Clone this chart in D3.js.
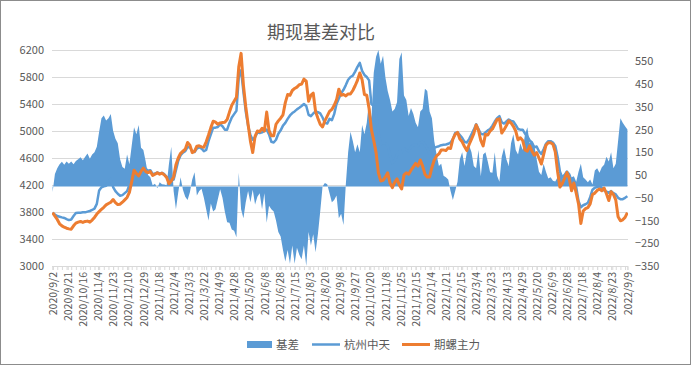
<!DOCTYPE html>
<html>
<head>
<meta charset="utf-8">
<script src="https://cdn.jsdelivr.net/npm/d3@7"></script>
<style>
  body { margin: 0; background: #fff; }
  svg text { font-family: "Noto Sans CJK SC", "Noto Sans", sans-serif; fill: #595959; }
</style>
</head>
<body>
<div id="vis"></div>
<script>
const FRAME_WIDTH = 692;
const FRAME_HEIGHT = 365;
const MARGINS = {left: 52, right: 64, top: 50, bottom: 99};

// x axis labels, one every 13 trading days
const tickLabels = ["2020/9/2", "2020/9/21", "2020/10/16", "2020/11/4", "2020/11/23", "2020/12/10",
  "2020/12/29", "2021/1/18", "2021/2/4", "2021/3/3", "2021/3/22", "2021/4/9", "2021/4/28",
  "2021/5/20", "2021/6/8", "2021/6/28", "2021/7/15", "2021/8/3", "2021/8/20", "2021/9/8",
  "2021/9/27", "2021/10/20", "2021/11/8", "2021/11/25", "2021/12/15", "2022/1/4", "2022/1/21",
  "2022/2/15", "2022/3/4", "2022/3/23", "2022/4/13", "2022/4/29", "2022/5/20", "2022/6/9",
  "2022/6/28", "2022/7/18", "2022/8/4", "2022/8/23", "2022/9/9"];
const LABEL_EVERY = 13;  // trading days between labels
const STEP = 2;          // values below are read every 2nd trading day

// 杭州中天 spot price (left axis)
const spot = [
  3790, 3760, 3740, 3730, 3720, 3712, 3695, 3680, 3690, 3740,
  3785, 3790, 3790, 3795, 3795, 3805, 3815, 3830, 3850, 3920,
  4120, 4165, 4180, 4190, 4240, 4290, 4170, 4110, 4070, 4040,
  4050, 4080, 4110, 4200, 4330, 4450, 4420, 4400, 4440, 4470,
  4440, 4410, 4420, 4360, 4370, 4385, 4370, 4380, 4360, 4320,
  4290, 4270, 4280, 4420, 4560, 4640, 4680, 4700, 4760, 4760,
  4700, 4690, 4740, 4760, 4740, 4700, 4720, 4850, 4950, 5050,
  5050, 5060, 5100, 5070, 5020, 5020, 5120, 5200, 5250, 5300,
  5800, 5900, 5580, 5290, 5080, 4940, 4870, 4910, 4980, 4970,
  4980, 5000, 5020, 4950, 4840, 4830, 4870, 4960, 5010, 5080,
  5120, 5180, 5230, 5265, 5290, 5320, 5344, 5370, 5400, 5370,
  5240, 5220, 5260, 5290, 5280, 5260, 5200, 5120, 5110, 5180,
  5160, 5250, 5400, 5480, 5560, 5610, 5680, 5760, 5800, 5820,
  5880, 5950, 6010, 5890, 5830, 5800, 5750, 5400, 5370, 5260,
  4980, 4800, 4820, 4820, 4780, 4650, 4520, 4560, 4640, 4700,
  4690, 4740, 4720, 4700, 4760, 4790, 4800, 4780, 4830, 4840,
  4790, 4740, 4660, 4720, 4750, 4765, 4775, 4790, 4795, 4800,
  4810, 4830, 4880, 4970, 4980, 4940, 4900, 4840, 4830, 4880,
  4950, 5020, 5100, 5030, 4960, 4950, 4980, 5010, 5030, 5080,
  5140, 5190, 5220, 5130, 5110, 5140, 5170, 5150, 5140, 5090,
  5030, 5020, 5020, 4960, 4920, 4860, 4830, 4760, 4770, 4700,
  4660, 4730, 4810, 4850, 4850, 4830, 4780, 4620, 4400, 4310,
  4350, 4400, 4360, 4260, 4220, 4170, 3960, 3870, 3900, 3915,
  3935, 4020, 4130, 4160, 4170, 4180, 4160, 4120, 4100, 4085,
  4110, 4080, 4060, 4010, 3990, 3990, 4010, 4035
];

// 期螺主力 futures price (left axis)
const futures = [
  3790, 3740, 3690, 3625, 3595, 3575, 3560, 3550, 3545, 3595,
  3635, 3650, 3660, 3645, 3660, 3665, 3650, 3680, 3720, 3770,
  3805, 3840, 3870, 3905, 3925, 3945, 3985, 3940, 3910, 3915,
  3945, 3980, 4015, 4090, 4250, 4420, 4370, 4335, 4400, 4450,
  4400, 4385, 4400, 4340, 4360, 4380, 4360, 4375, 4350, 4310,
  4220, 4260, 4320, 4500, 4600, 4670, 4700, 4730, 4830, 4790,
  4680, 4700, 4775, 4780, 4765, 4760, 4840, 4940, 5050, 5145,
  5130, 5100, 5120, 5125, 5130, 5170, 5280, 5380, 5440, 5500,
  5950, 6150, 5680, 5360, 5100, 4850, 4680, 4920, 5000, 4990,
  5040, 5000, 5280, 5010, 4930, 4930, 5100, 5150, 5190, 5240,
  5420, 5540, 5530, 5600, 5630, 5650, 5685, 5695, 5770, 5740,
  5440, 5530, 5560, 5290, 5190, 5100, 5060, 5150, 5220, 5290,
  5320, 5380, 5460, 5620, 5530, 5540, 5520, 5550, 5550, 5600,
  5670, 5750, 5860, 5760, 5540, 5530, 5330, 5020, 4860, 4680,
  4380, 4260, 4270, 4320, 4380, 4230, 4160, 4240, 4290, 4200,
  4140, 4350, 4380, 4360, 4420, 4470, 4520, 4480, 4570, 4480,
  4360, 4320, 4320, 4460, 4570, 4630, 4660, 4720, 4720, 4710,
  4750, 4740, 4880, 4950, 4980, 4880, 4840, 4770, 4710, 4800,
  4880, 4960, 5090, 5010, 4860, 4780, 4950, 4940, 5000, 5030,
  5100, 5170, 5180, 4970, 5020, 5080, 5150, 5120, 5070, 5000,
  4870, 4900, 4860, 4720, 4700, 4780, 4700, 4640, 4680, 4600,
  4510, 4650, 4790, 4826, 4826, 4805, 4690, 4400, 4170, 4220,
  4300, 4385, 4300, 4115, 4230, 4080, 3920, 3630, 3815, 3850,
  3865, 3920, 4060, 4080, 4120, 4140, 4115, 4155, 4070, 3970,
  4100, 4060, 3980, 3730, 3670, 3685, 3720, 3790
];

// 基差 basis (right axis)
const basis = [
  -25, 55, 80, 98, 108, 95, 110, 100, 110, 98,
  112, 120, 128, 115, 130, 145, 122, 140, 150, 175,
  240, 300, 312, 290, 300, 318, 245, 210, 190, 120,
  85, 78, 140, 98, 180, 260, 230, 270, 170, 160,
  110, 50, 40, 5, 12, -8, 18, 10, 8, 5,
  100, 175, -20, -100, -26, 40, -15, -45, -60, -26,
  30, 62, -40, -20, -10, -50, -100, -150, -75, -110,
  -100, -56, -12, -50, -110, -158, -160, -190, -195, -224,
  60, -100, -140, -70, -20, -70, -15, -80, -45, -30,
  -100, -30, -160, -85, -100, -110, -150, -200, -220, -280,
  -330, -280, -340, -260, -340, -270, -300, -320, -260, -350,
  -200, -260, -210, -290, -210, -110, 0, 15, 10, -30,
  -70, -60, -40, -140, -120, -170, 10, 150, 240, 200,
  150, 185, 150, 270, 230, 280, 380, 300, 500, 570,
  600, 540, 575, 480, 420, 380, 330, 340, 370, 560,
  590, 400, 380, 310, 345, 320, 280, 260, 330, 340,
  430, 420, 330, 300, 200, 140, 90, 100, 47, 40,
  30, -20, -60, -20, 20, 120, 150, 90, 150, 180,
  150, 90, 80, 160, 45, 140, 150, 110, 62, 60,
  150, 47, 20, 130, 170, 120, 90, 190, 230, 160,
  140, 190, 160, 230, 260, 190, 200, 180, 120, 65,
  50, 100, 65, 35, 40, 25, 22, 40, 60, 35,
  45, 60, 35, 40, 45, 20, 65, 100, 40, 30,
  18, 30, 8, 70, 80, 60, 84, 95, 130, 110,
  150, 80, 100, 200, 300, 280, 265, 250
];

const leftTicks = [3000, 3400, 3800, 4200, 4600, 5000, 5400, 5800, 6200];
const rightTicks = [-350, -250, -150, -50, 50, 150, 250, 350, 450, 550];

const BLUE = "#5B9BD5";
const ORANGE = "#ED7D31";
const GRID = "#D9D9D9";

const VIS_WIDTH = FRAME_WIDTH - MARGINS.left - MARGINS.right;
const VIS_HEIGHT = FRAME_HEIGHT - MARGINS.top - MARGINS.bottom;

const FRAME = d3.select("#vis")
  .append("svg")
    .attr("width", FRAME_WIDTH)
    .attr("height", FRAME_HEIGHT);

FRAME.append("rect")
  .attr("x", 0.5).attr("y", 0.5)
  .attr("width", FRAME_WIDTH - 2).attr("height", FRAME_HEIGHT - 1)
  .attr("fill", "#fff").attr("stroke", "#8c8c8c");

const N = (tickLabels.length - 1) * LABEL_EVERY;  // last trading-day index

const X_SCALE = d3.scaleLinear()
  .domain([0, N])
  .range([0.6, VIS_WIDTH - 0.6]);

const Y_LEFT = d3.scaleLinear()
  .domain([3000, 6200])
  .range([VIS_HEIGHT, 0]);

const Y_RIGHT = d3.scaleLinear()
  .domain([-350, 600])
  .range([VIS_HEIGHT, 0]);

const G = FRAME.append("g")
  .attr("transform", "translate(" + MARGINS.left + "," + MARGINS.top + ")");

G.append("clipPath").attr("id", "clip")
  .append("rect").attr("width", VIS_WIDTH).attr("height", VIS_HEIGHT);

// gridlines + left axis
G.append("g")
  .call(d3.axisLeft(Y_LEFT).tickValues(leftTicks).tickFormat(d3.format("d"))
          .tickSize(-VIS_WIDTH).tickPadding(8))
  .call(g => g.select(".domain").remove())
  .call(g => g.selectAll("line").attr("stroke", GRID))
  .call(g => g.selectAll("text").attr("font-size", "11px"));

// right axis
G.append("g")
  .attr("transform", "translate(" + VIS_WIDTH + ",0)")
  .call(d3.axisRight(Y_RIGHT).tickValues(rightTicks).tickFormat(d3.format("d"))
          .tickSize(0).tickPadding(7))
  .call(g => g.select(".domain").remove())
  .call(g => g.selectAll("text").attr("font-size", "11px"));

// small tick marks along the category axis
G.append("g")
  .attr("transform", "translate(0," + VIS_HEIGHT + ")")
  .call(d3.axisBottom(X_SCALE).tickValues(d3.range(0, N + 1, 4)).tickFormat("").tickSize(4))
  .call(g => g.select(".domain").remove())
  .call(g => g.selectAll("line").attr("stroke", GRID));

// x axis
G.append("g")
  .attr("transform", "translate(0," + VIS_HEIGHT + ")")
  .call(d3.axisBottom(X_SCALE)
          .tickValues(tickLabels.map((d, i) => i * LABEL_EVERY))
          .tickFormat((d, i) => tickLabels[i])
          .tickSize(4))
  .call(g => g.select(".domain").attr("stroke", GRID))
  .call(g => g.selectAll("line").attr("stroke", GRID))
  .call(g => g.selectAll("text")
          .attr("font-size", "10.5px")
          .attr("x", -6).attr("y", 0).attr("dy", "0.35em")
          .attr("transform", "rotate(-90)")
          .style("text-anchor", "end"));

const PLOT = G.append("g").attr("clip-path", "url(#clip)");

// basis area
PLOT.append("path")
  .datum(basis)
  .attr("fill", BLUE)
  .attr("d", d3.area()
    .x((d, i) => X_SCALE(i * STEP))
    .y0(Y_RIGHT(0))
    .y1(d => Y_RIGHT(d)));

const LINE = d3.line()
  .x((d, i) => X_SCALE(i * STEP))
  .y(d => Y_LEFT(d));

PLOT.append("path")
  .datum(spot)
  .attr("fill", "none")
  .attr("stroke", BLUE)
  .attr("stroke-width", 2.5)
  .attr("stroke-linejoin", "round")
  .attr("d", LINE);

PLOT.append("path")
  .datum(futures)
  .attr("fill", "none")
  .attr("stroke", ORANGE)
  .attr("stroke-width", 3)
  .attr("stroke-linejoin", "round")
  .attr("d", LINE);

// title
FRAME.append("text")
  .attr("x", 321).attr("y", 39)
  .attr("text-anchor", "middle")
  .attr("font-size", "18px")
  .text("期现基差对比");

// legend
const LEGEND = FRAME.append("g").attr("font-size", "11.5px");
LEGEND.append("rect")
  .attr("x", 247).attr("y", 341).attr("width", 25).attr("height", 7)
  .attr("fill", BLUE);
LEGEND.append("text").attr("x", 276).attr("y", 349).text("基差");
LEGEND.append("line")
  .attr("x1", 312).attr("x2", 340).attr("y1", 344.5).attr("y2", 344.5)
  .attr("stroke", BLUE).attr("stroke-width", 2.5);
LEGEND.append("text").attr("x", 344).attr("y", 349).text("杭州中天");
LEGEND.append("line")
  .attr("x1", 402).attr("x2", 430).attr("y1", 344.5).attr("y2", 344.5)
  .attr("stroke", ORANGE).attr("stroke-width", 3);
LEGEND.append("text").attr("x", 434).attr("y", 349).text("期螺主力");
</script>
</body>
</html>
